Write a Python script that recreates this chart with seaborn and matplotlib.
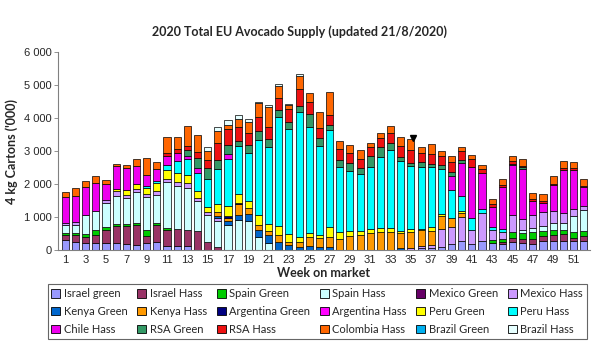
import numpy as np
import pandas as pd
import matplotlib
matplotlib.use('Agg')
import matplotlib.pyplot as plt
from matplotlib.patches import Patch
import seaborn as sns

weeks = list(range(1, 53))

series = ['Israel green', 'Israel Hass', 'Spain Green', 'Spain Hass', 'Mexico Green', 'Mexico Hass',
          'Kenya Green', 'Kenya Hass', 'Argentina Green', 'Argentina Hass', 'Peru Green', 'Peru Hass',
          'Chile Hass', 'RSA Green', 'RSA Hass', 'Colombia Hass', 'Brazil Green', 'Brazil Hass']

colors = ['#9999FF', '#993366', '#00CC00', '#CCFFFF', '#660066', '#CC99FF',
          '#0066CC', '#FF9900', '#000080', '#FF00FF', '#FFFF00', '#00FFFF',
          '#EE00EE', '#339966', '#EE1111', '#FF6600', '#00B0F0', '#E6FFFF']

# values in '000 cartons, week 1..52
israel_green = [300, 230, 200, 200, 200, 200, 180, 150, 220, 230, 120, 130, 130, 0, 0, 0, 0, 0, 0, 0,
                0, 0, 0, 0, 0, 0, 0, 0, 0, 0, 0, 0, 0, 0, 0, 50, 50, 80, 180, 260,
                170, 260, 220, 180, 230, 200, 180, 260, 280, 260, 280, 280]
israel_hass = [150, 220, 200, 250, 400, 540, 550, 600, 200, 530, 490, 500, 460, 560, 250, 100, 0, 0, 0, 0,
               0, 0, 0, 0, 0, 0, 0, 0, 0, 0, 0, 0, 0, 0, 0, 0, 0, 0, 0, 0,
               0, 0, 0, 70, 120, 130, 150, 150, 180, 230, 80, 150]
spain_green = [70, 70, 80, 150, 80, 40, 60, 70, 180, 70, 50, 0, 0, 0, 0, 0, 0, 0, 0, 0,
               0, 0, 0, 0, 0, 0, 0, 0, 0, 0, 0, 0, 0, 0, 0, 0, 0, 0, 0, 0,
               0, 0, 80, 80, 200, 190, 220, 150, 150, 100, 170, 130]
spain_hass = [250, 250, 580, 590, 730, 870, 790, 950, 990, 850, 1400, 1300, 1300, 920, 800, 790, 770, 920, 870, 380,
              200, 0, 0, 0, 0, 0, 0, 0, 0, 0, 0, 0, 0, 0, 0, 0, 0, 0, 0, 0,
              0, 0, 0, 0, 0, 80, 100, 150, 200, 240, 510, 640]
mexico_green = [0] * 52
mexico_hass = [40, 80, 0, 0, 100, 130, 100, 80, 100, 100, 100, 120, 130, 100, 100, 80, 0, 0, 0, 0,
               0, 0, 0, 0, 0, 0, 0, 0, 0, 0, 0, 0, 0, 0, 50, 80, 100, 550, 500, 740,
               440, 870, 310, 220, 510, 340, 410, 440, 360, 290, 200, 120]
kenya_green = [0, 0, 0, 0, 0, 0, 0, 0, 0, 0, 0, 0, 0, 0, 0, 70, 100, 150, 220, 230,
               260, 230, 150, 100, 120, 100, 100, 0, 0, 0, 0, 0, 0, 50, 0, 0, 0, 0, 0, 0,
               0, 0, 0, 0, 0, 0, 0, 0, 0, 0, 0, 0]
kenya_hass = [0, 0, 0, 0, 0, 0, 0, 0, 0, 0, 0, 0, 0, 0, 0, 100, 100, 310, 180, 150,
              100, 220, 100, 130, 270, 260, 280, 340, 410, 440, 510, 540, 530, 460, 480, 460, 430, 390, 290, 120,
              0, 0, 0, 0, 0, 0, 0, 0, 0, 0, 0, 0]
argentina_green = [0, 0, 0, 0, 0, 0, 0, 0, 0, 0, 0, 0, 0, 0, 0, 0, 50, 50, 0, 0,
                   0, 0, 0, 0, 0, 0, 0, 0, 0, 0, 0, 0, 0, 0, 0, 0, 0, 0, 0, 0,
                   0, 0, 0, 0, 0, 0, 0, 0, 0, 0, 0, 0]
argentina_hass = [0] * 52
peru_green = [0, 0, 0, 0, 0, 70, 150, 150, 200, 250, 250, 290, 250, 200, 140, 260, 310, 280, 220, 290,
              220, 290, 220, 170, 120, 100, 310, 190, 170, 120, 120, 120, 130, 70, 110, 50, 100, 80, 0, 50,
              0, 0, 0, 0, 0, 0, 0, 0, 0, 0, 0, 0]
peru_hass = [0, 0, 0, 0, 0, 0, 0, 0, 60, 50, 160, 360, 490, 560, 870, 1050, 1430, 1430, 1460, 2270,
             2350, 3290, 3190, 3780, 3210, 2700, 2940, 2000, 1800, 1730, 1900, 2170, 2370, 2120, 1910, 1880, 1840, 1350, 850, 480,
             360, 120, 80, 80, 0, 0, 0, 0, 0, 0, 0, 0]
chile_hass = [790, 790, 840, 840, 480, 700, 640, 550, 330, 360, 280, 250, 100, 130, 0, 0, 150, 0, 0, 0,
              0, 0, 0, 0, 0, 0, 0, 0, 0, 0, 0, 0, 0, 0, 0, 0, 0, 0, 410, 980,
              1530, 1080, 600, 1280, 1510, 1500, 430, 280, 800, 1310, 1180, 580]
rsa_green = [0, 0, 0, 0, 0, 0, 0, 0, 0, 0, 0, 0, 170, 330, 320, 280, 260, 150, 230, 290,
             230, 200, 230, 200, 390, 230, 170, 200, 260, 200, 330, 300, 200, 130, 100, 160, 100, 120, 120, 100,
             0, 0, 0, 0, 50, 70, 0, 0, 0, 0, 0, 0]
rsa_hass = [0, 0, 0, 0, 0, 0, 0, 0, 0, 0, 100, 100, 130, 180, 240, 510, 510, 440, 380, 430,
            380, 390, 380, 510, 380, 310, 290, 330, 310, 260, 260, 270, 310, 310, 380, 260, 290, 290, 310, 280,
            260, 120, 110, 70, 70, 50, 50, 50, 40, 50, 50, 30]
colombia_hass = [150, 230, 190, 200, 130, 70, 100, 200, 500, 230, 490, 390, 600, 510, 290, 380, 100, 240, 310, 410,
                 610, 360, 120, 380, 280, 480, 710, 230, 240, 290, 130, 140, 210, 270, 320, 170, 300, 140, 190, 100,
                 110, 130, 140, 160, 170, 210, 190, 210, 220, 210, 210, 220]
brazil_green = [0] * 52
brazil_hass = [0, 0, 0, 0, 0, 0, 0, 0, 0, 0, 0, 0, 0, 0, 120, 110, 150, 130, 100, 50,
               60, 50, 50, 80, 0, 0, 0, 0, 0, 0, 0, 0, 0, 0, 0, 0, 0, 0, 0, 0,
               0, 0, 0, 0, 0, 0, 0, 0, 0, 0, 0, 0]

values = [israel_green, israel_hass, spain_green, spain_hass, mexico_green, mexico_hass,
          kenya_green, kenya_hass, argentina_green, argentina_hass, peru_green, peru_hass,
          chile_hass, rsa_green, rsa_hass, colombia_hass, brazil_green, brazil_hass]

df = pd.DataFrame(dict(zip(series, values)))
df['Week'] = weeks
df_long = df.melt(id_vars='Week', var_name='Origin', value_name='Cartons')
palette = dict(zip(series, colors))

sns.set_style('white')
plt.rcParams['font.family'] = ['Liberation Sans', 'DejaVu Sans']

fig = plt.figure(figsize=(6, 3.57), dpi=100)
ax = fig.add_axes([0.097, 0.30, 0.886, 0.554])

# stacked bars: histplot puts the first hue level on top, so reverse the order
sns.histplot(data=df_long, x='Week', weights='Cartons', hue='Origin',
             hue_order=series[::-1], multiple='stack', discrete=True, shrink=0.7,
             palette=palette, alpha=1, edgecolor='black', linewidth=0.5,
             legend=False, ax=ax)

for p in ax.patches:
    if p.get_height() <= 0:
        p.set_linewidth(0)

totals = df[series].sum(axis=1).values
ax.plot(35.2, totals[34] + 40, marker='v', color='black', markersize=4)

ax.set_xlim(0.3, 52.6)
ax.set_ylim(0, 6000)
ax.set_yticks(range(0, 6001, 1000))
ax.set_yticklabels([f'{v:,}'.replace(',', ' ') for v in range(0, 6001, 1000)], fontsize=8)
ax.set_xticks(range(1, 53, 2))
ax.set_xticklabels([str(w) for w in range(1, 53, 2)], fontsize=8)
ax.set_xticks(np.arange(0.5, 53, 1), minor=True)
ax.tick_params(axis='x', which='major', length=0, pad=4)
ax.tick_params(axis='x', which='minor', length=3, color='#808080', width=0.6, direction='out')
ax.tick_params(axis='y', length=3, color='#808080', width=0.6, direction='out', left=True, pad=2)

for s in ['top', 'right']:
    ax.spines[s].set_visible(False)
for s in ['left', 'bottom']:
    ax.spines[s].set_color('#808080')
    ax.spines[s].set_linewidth(0.8)

ax.set_xlabel('Week on market', fontsize=9, fontweight='bold', family='Lato', labelpad=1)
ax.set_ylabel("4 kg Cartons ('000)", fontsize=9, fontweight='bold', family='Lato', labelpad=4)
fig.text(0.5, 0.91, '2020 Total EU Avocado Supply (updated 21/8/2020)', ha='center', va='center',
         fontsize=9, fontweight='bold', family='Lato')

handles = [Patch(facecolor=c, edgecolor='black', linewidth=0.6, label=s) for s, c in zip(series, colors)]
ncol = 6
order = [r * ncol + c for c in range(ncol) for r in range(3)]
leg = fig.legend([handles[i] for i in order], [series[i] for i in order], ncol=ncol,
                 loc='center', bbox_to_anchor=(0.07, 1 - 339 / 357, 0.917, 55 / 357), mode='expand',
                 frameon=True, fancybox=False, edgecolor='#404040',
                 prop={'family': 'Lato', 'size': 8},
                 handlelength=0.8, handleheight=0.8, handletextpad=0.3, borderpad=0.35,
                 labelspacing=0.6, columnspacing=1.0)
leg.get_frame().set_linewidth(0.8)

fig.savefig('out.png', dpi=100, facecolor='white')
